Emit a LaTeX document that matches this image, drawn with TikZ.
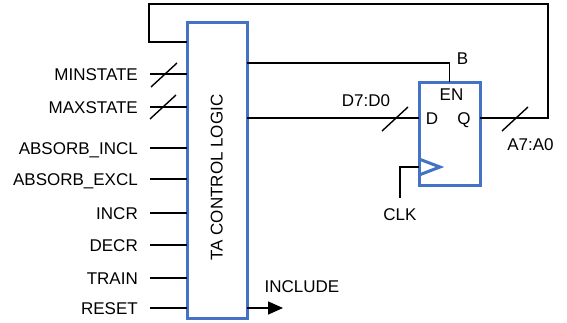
\documentclass[tikz,border=0pt]{standalone}
\usepackage{fontspec}
\setmainfont{Liberation Sans}
\usetikzlibrary{arrows.meta}
\definecolor{blockblue}{RGB}{68,114,196}
\tikzset{
  sig/.style={inner sep=0pt, text height=12.2pt, text depth=0pt, font=\fontsize{17}{20}\selectfont},
  block/.style={draw=blockblue, line width=3pt, outer sep=0pt},
  wire/.style={line width=1.4pt},
  busmark/.pic={\draw[wire] (-13,12) -- (13,-12);}
}

\begin{document}
\begin{tikzpicture}[x=1pt,y=-1pt]
\useasboundingbox (0,0) rectangle (567,322);

% control logic block
\node[block, minimum width=60pt, minimum height=296pt] (tacl) at (217,170) {};
\node[sig, rotate=90] (tatext) at (216.5,177.5) {TA CONTROL LOGIC};

% register
\node[block, minimum width=61pt, minimum height=103pt] (ff) at (449.5,133.5) {};
\draw[block, line join=miter] ([yshift=-25.5pt]ff.west) -- ([xshift=21pt,yshift=-33.5pt]ff.west) -- ([yshift=-41.5pt]ff.west);
\coordinate (dIn) at ([yshift=15.5pt]ff.west);
\coordinate (qOut) at ([yshift=15.5pt]ff.east);
\coordinate (clkIn) at ([yshift=-33.5pt]ff.west);

\node[sig] (en) at (451.5,94) {EN};
\node[sig] (dlbl) at (432,118.5) {D};
\node[sig] (qlbl) at (464,118.5) {Q};
\node[sig] (b) at (462.5,58) {B};
\node[sig] (dbus) at (366,100) {D7:D0};
\node[sig] (abus) at (530.5,144.5) {A7:A0};
\node[sig] (clk) at (400,214.5) {CLK};
\node[sig] (incl) at (302,286) {INCLUDE};

% inputs
\foreach \txt/\yy/\nm in {MINSTATE/74/minst, MAXSTATE/107/maxst, ABSORB\_INCL/148/absincl, ABSORB\_EXCL/179/absexcl, INCR/213/incr, DECR/245/decr, TRAIN/278/train, RESET/308/reset}{
  \node[sig, anchor=east] (\nm) at (138,\yy) {\txt};
  \draw[wire] ([xshift=12pt]\nm.east) -- (\nm.east -| tacl.west);
}

% wires
\draw[wire] (tacl.east |- dIn) -- (dIn);
\coordinate (enTurn) at (449.5,63);
\draw[wire] (tacl.east |- enTurn) -| (ff.north);
\coordinate (fbRight) at (548,4);
\coordinate (fbLeft) at (149,42);
\draw[wire] (qOut) -| (fbRight) -| (fbLeft) -- (tacl.west |- fbLeft);
\coordinate (clkEnd) at (400,198);
\draw[wire] (clkIn) -| (clkEnd);
\coordinate (inclEnd) at (283,308);
\draw[wire, -{Triangle[length=15pt,width=13pt]}] (tacl.east |- inclEnd) -- (inclEnd);

% bus marks
\path (164,75) pic {busmark};
\path (163,107) pic {busmark};
\path (395,119) pic {busmark};
\path (515,119) pic {busmark};
\end{tikzpicture}
\end{document}
